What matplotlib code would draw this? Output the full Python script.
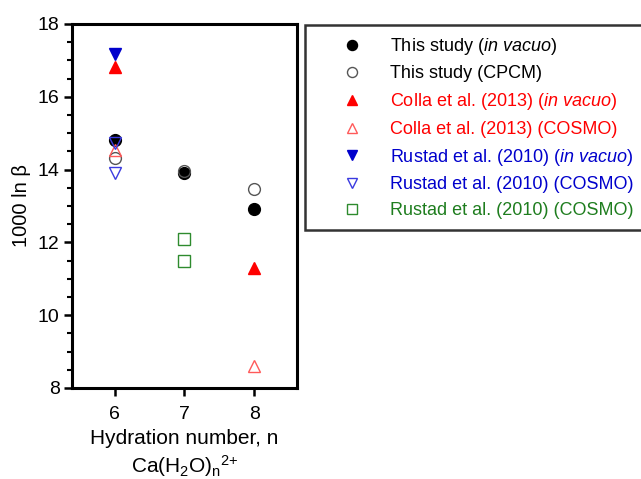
import matplotlib
matplotlib.use("Agg")
import matplotlib.pyplot as plt
from matplotlib.ticker import MultipleLocator

plt.rcParams['font.family'] = ['Liberation Sans', 'DejaVu Sans']
plt.rcParams['mathtext.fontset'] = 'custom'
plt.rcParams['mathtext.rm'] = 'Liberation Sans'
plt.rcParams['mathtext.it'] = 'Liberation Sans:italic'
plt.rcParams['mathtext.bf'] = 'Liberation Sans:bold'

# Data
n_this_vac = [6, 7, 8]
this_vac = [14.82, 13.90, 12.91]
n_this_cpcm = [6, 7, 8]
this_cpcm = [14.31, 13.95, 13.46]
n_colla_vac = [6, 8]
colla_vac = [16.83, 11.29]
n_colla_cosmo = [6, 8]
colla_cosmo = [14.54, 8.61]
n_rustad_vac = [6]
rustad_vac = [17.17]
n_rustad_cosmo = [6, 6]
rustad_cosmo = [14.72, 13.92]
n_rustad_cosmo2 = [7, 7]
rustad_cosmo2 = [12.09, 11.48]

labels = [
    "This study ($\\it{in\\ vacuo}$)",
    "This study (CPCM)",
    "Colla et al. (2013) ($\\it{in\\ vacuo}$)",
    "Colla et al. (2013) (COSMO)",
    "Rustad et al. (2010) ($\\it{in\\ vacuo}$)",
    "Rustad et al. (2010) (COSMO)",
    "Rustad et al. (2010) (COSMO)",
]
label_colors = ['black', 'black', '#ff0000', '#ff0000', '#0000cc', '#0000cc', '#1e7d1e']

fig = plt.figure(figsize=(6.41, 4.79), dpi=100)
ax = fig.add_axes([72/641, 1-388/479, 225/641, 364/479])

ms = 8.5
h = []
h.append(ax.plot(n_this_vac, this_vac, 'o', ms=ms, mfc='black', mec='black', ls='none')[0])
h.append(ax.plot(n_this_cpcm, this_cpcm, 'o', ms=ms, mfc='none', mec='#555555', mew=1.0, ls='none')[0])
h.append(ax.plot(n_colla_vac, colla_vac, '^', ms=ms, mfc='#ff0000', mec='#ff0000', ls='none')[0])
h.append(ax.plot(n_colla_cosmo, colla_cosmo, '^', ms=ms, mfc='none', mec='#ff5a5a', mew=1.0, ls='none')[0])
h.append(ax.plot(n_rustad_vac, rustad_vac, 'v', ms=ms, mfc='#0000cc', mec='#0000cc', ls='none')[0])
h.append(ax.plot(n_rustad_cosmo, rustad_cosmo, 'v', ms=ms, mfc='none', mec='#3a3ae0', mew=1.0, ls='none')[0])
h.append(ax.plot(n_rustad_cosmo2, rustad_cosmo2, 's', ms=ms - 0.5, mfc='none', mec='#2e8b2e', mew=1.0, ls='none')[0])

ax.set_xlim(5.386, 8.614)
ax.set_ylim(8, 18)
ax.set_xticks([6, 7, 8])
ax.yaxis.set_major_locator(MultipleLocator(2))
ax.yaxis.set_minor_locator(MultipleLocator(0.5))
for s in ax.spines.values():
    s.set_linewidth(2.2)
ax.tick_params(axis='both', which='major', direction='out', length=6, width=1.8, labelsize=14)
ax.tick_params(axis='x', which='major', pad=7)
ax.tick_params(axis='y', which='major', pad=3)
ax.tick_params(axis='y', which='minor', direction='out', length=3.5, width=1.5)
ax.set_ylabel("1000 ln β", fontsize=14.5, labelpad=5)
ax.set_xlabel("Hydration number, n\nCa(H$_2$O)$_\\mathrm{n}$$^{2{+}}$", fontsize=15,
              labelpad=4, linespacing=1.3)

leg = fig.legend(h, labels, loc='upper left',
                 bbox_to_anchor=(305/641, 0, 345/641, 1-25/479), mode='expand',
                 bbox_transform=fig.transFigure, borderaxespad=0, fontsize=13,
                 frameon=True, fancybox=False, edgecolor='black', borderpad=0.6,
                 handlelength=4.0, handletextpad=0.1, labelspacing=0.48,
                 markerscale=0.85, labelcolor=label_colors)
leg.get_frame().set_linewidth(1.8)

fig.savefig("out.png", dpi=100)
